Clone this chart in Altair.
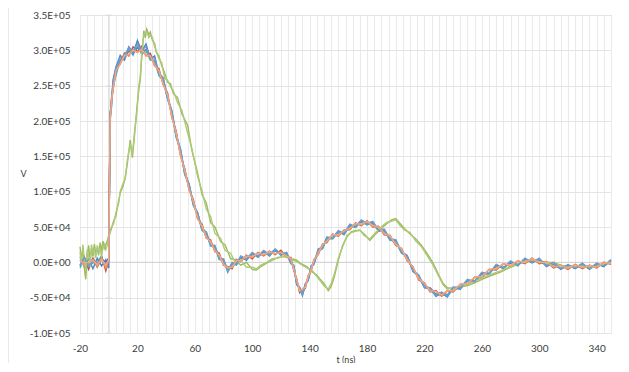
import altair as alt
import pandas as pd

# ---- time grid (ns) for the overlapping shots ----
T_MAIN = [-20, -17, -14, -11, -8, -5, -2, 0, 1, 2, 3, 5,
          8, 11, 14, 17, 20, 23, 26, 29, 32, 35, 38, 41, 44, 47, 50, 53, 56, 59,
          62, 65, 68, 71, 74, 77, 80, 83, 86, 89, 92,
          96, 100, 104, 108, 112, 116, 120, 124,
          127, 129, 131, 133, 135, 137, 139, 141, 143, 146, 149, 152,
          156, 160, 164, 168, 172, 176, 180, 184, 188, 192, 196, 200, 204, 208,
          212, 216, 220, 224, 228, 232, 236, 240,
          245, 250, 255, 260, 265, 270, 275, 280, 285, 290, 295, 300, 305, 310,
          315, 320, 325, 330, 335, 340, 345, 350]

# values in units of 1e3 V
S_BLUE = [8, -6, 5, -9, 6, -5, 4, -8, 212, 224, 258, 276,
          293, 286, 305, 296, 314, 299, 309, 288, 292, 266, 260, 232, 214, 178, 160, 125, 111, 81,
          70, 46, 43, 24, 23, 5, 4, -13, -1, -3, 8,
          3, 13, 7, 16, 9, 18, 10, 13,
          -2, -5, -32, -36, -47, -31, -26, -6, -3, 18, 20, 35,
          34, 44, 40, 53, 50, 59, 54, 57, 45, 46, 32, 31, 14, 9,
          -13, -19, -36, -37, -48, -44, -49, -36,
          -38, -25, -28, -15, -17, -4, -9, 1, -5, 5, -1, 5, -6, -1,
          -10, -4, -9, -2, -10, -2, -6, 3]
S_RED = [-5, 8, -10, 6, -4, 9, -12, 3, 198, 233, 243, 272,
         281, 296, 292, 305, 298, 306, 293, 296, 278, 274, 251, 240, 205, 186, 151, 133, 102, 89,
         61, 54, 34, 32, 15, 13, -4, -6, -9, 4, 1,
         10, 5, 14, 9, 16, 11, 17, 7,
         7, -12, -23, -43, -38, -37, -19, -13, 4, 11, 26, 28,
         40, 37, 46, 46, 56, 52, 59, 50, 51, 39, 38, 24, 20, 2,
         -6, -25, -29, -42, -40, -48, -40, -42,
         -31, -32, -21, -22, -10, -11, -2, -6, 2, -2, 6, -2, 1, -8,
         -4, -10, -3, -9, -4, -8, 0, -3]
S_PURPLE = [4, -3, -1, 5, -7, 5, 0, 6, 207, 231, 251, 268,
            287, 289, 299, 296, 304, 297, 301, 288, 285, 267, 258, 233, 211, 180, 157, 127, 108, 83,
            67, 48, 40, 26, 21, 7, 2, -11, -3, 0, 6,
            5, 11, 9, 14, 11, 16, 12, 11,
            1, -7, -30, -36, -44, -32, -24, -8, -1, 16, 21, 33,
            35, 42, 41, 51, 51, 57, 54, 55, 46, 44, 33, 29, 15, 7,
            -11, -20, -34, -36, -45, -43, -46, -37,
            -36, -26, -26, -17, -15, -6, -7, -1, -3, 3, 1, 3, -4, -3,
            -9, -5, -8, -4, -9, -3, -5, 2]
S_AQUA = [-8, 6, -6, -1, 2, 8, -7, 5, 203, 220, 247, 264,
          286, 289, 302, 293, 309, 294, 300, 286, 285, 264, 257, 231, 212, 177, 158, 124, 109, 80,
          68, 45, 41, 23, 22, 4, 3, -14, -2, -4, 7,
          4, 12, 8, 15, 10, 17, 11, 12,
          -1, -6, -31, -37, -46, -32, -25, -7, -2, 17, 19, 34,
          33, 43, 39, 52, 49, 58, 53, 56, 44, 45, 31, 30, 13, 8,
          -12, -20, -35, -38, -47, -45, -48, -37,
          -37, -26, -27, -16, -16, -5, -8, 0, -4, 4, 0, 4, -5, -2,
          -9, -5, -8, -3, -9, -3, -5, 2]
S_ORANGE = [3, -4, -2, 4, -6, 6, -8, 2, 204, 229, 246, 272,
            280, 294, 293, 301, 297, 302, 292, 292, 278, 272, 252, 238, 206, 184, 153, 131, 104, 87,
            63, 52, 36, 30, 17, 11, -2, -7, -7, 3, 2,
            9, 7, 13, 10, 15, 12, 15, 8,
            5, -11, -24, -41, -38, -36, -19, -12, 3, 12, 25, 29,
            39, 38, 45, 47, 55, 53, 58, 51, 50, 40, 37, 25, 19, 3,
            -7, -24, -30, -41, -41, -47, -40, -41,
            -31, -31, -21, -21, -10, -10, -2, -5, 2, -1, 6, -1, 1, -7,
            -4, -9, -3, -8, -4, -7, 0, -2]
S_LIGHTBLUE = [-4, 7, -5, 2, -1, 3, -2, 0, 207, 229, 254, 274,
               290, 293, 304, 298, 309, 300, 305, 290, 289, 268, 261, 234, 215, 181, 161, 127, 111, 83,
               70, 47, 43, 25, 24, 6, 5, -12, 0, -2, 9,
               5, 14, 9, 17, 11, 19, 12, 14,
               0, -4, -29, -35, -45, -30, -24, -5, -1, 19, 21, 36,
               35, 45, 41, 54, 51, 60, 55, 58, 46, 47, 33, 32, 15, 10,
               -11, -18, -34, -36, -46, -42, -47, -35,
               -36, -24, -27, -14, -16, -3, -8, 2, -4, 6, 0, 6, -5, 0,
               -9, -3, -8, -1, -9, -1, -5, 4]
S_SALMON = [2, -1, 0, 3, -3, 4, -4, 3, 203, 228, 246, 270,
            281, 293, 294, 300, 297, 301, 294, 292, 279, 271, 252, 237, 206, 183, 152, 130, 103, 86,
            62, 51, 35, 29, 16, 10, -3, -8, -7, 3, 2,
            9, 8, 13, 11, 15, 12, 14, 9,
            5, -10, -25, -40, -38, -35, -20, -11, 3, 13, 25, 30,
            39, 39, 45, 48, 55, 54, 58, 52, 50, 41, 37, 26, 19, 4,
            -7, -23, -30, -40, -41, -46, -40, -40,
            -31, -30, -21, -20, -10, -9, -2, -4, 2, 0, 5, 0, 0, -6,
            -5, -8, -4, -7, -5, -6, -1, -1]

# ---- the delayed (green) shots ----
T_GREEN = [-20, -19, -18, -17, -16, -15, -14, -13, -12, -11, -10, -9, -8, -7, -6, -5, -4, -3, -2, -1, 0,
           1.5, 3.5, 5, 7, 8, 10, 11.5, 13, 15, 16.5, 18, 19.5, 21, 22, 23, 24.5, 25.5, 26.5, 28, 29,
           30.5, 32, 33, 35, 37,
           39, 41, 43, 45, 48, 51, 55, 58, 62, 65, 68, 71, 74, 78, 81, 85, 88, 92, 96, 100,
           103, 106, 110, 114, 118, 122, 126, 131, 134, 138, 142, 145, 147, 150, 153, 155, 157, 160, 163, 166,
           169, 172, 175, 178, 182, 185, 188, 191, 194, 197, 200, 203, 206, 210, 214, 218, 222, 226, 230, 233,
           236, 240, 245, 250, 255, 260, 266, 273, 280, 287, 294, 300, 305, 310, 315, 320, 325, 330, 335,
           340, 345, 350]
G_GREEN = [22, 5, 18, -8, -24, 10, 24, 2, 20, 8, 26, 12, 20, 10, 28, 15, 30, 18, 25, 30, 38,
           45, 59, 66, 88, 98, 108, 120, 140, 173, 148, 180, 215, 245, 258, 290, 328, 318, 330, 322, 326,
           314, 310, 298, 292, 278,
           268, 255, 253, 239, 233, 210, 194, 158, 126, 96, 84, 56, 50, 29, 25, 5, 4, -4, 0, -10,
           -11, -6, -1, 3, 7, 8, 6, 3, -2, -6, -14, -18, -23, -30, -40, -34, -22, 3, 24, 36,
           43, 45, 45, 40, 31, 38, 44, 50, 55, 60, 62, 55, 48, 40, 33, 24, 12, -1, -18, -30,
           -36, -37, -35, -33, -29, -24, -19, -14, -7, -1, 3, 2, 0, 0, -4, -6, -5, -6, -7,
           -5, -3, 1]
G_LIGHTGREEN = [15, -3, 25, 4, -10, 18, 10, -6, 25, 14, 18, 6, 24, 16, 20, 8, 22, 26, 18, 24, 34,
                48, 55, 70, 84, 100, 112, 118, 145, 168, 152, 185, 210, 250, 262, 295, 322, 325, 326, 318, 322,
                318, 305, 300, 288, 282,
                260, 258, 249, 243, 226, 215, 183, 161, 121, 101, 75, 65, 41, 34, 17, 13, 0, 3, -7, -7,
                -9, -4, 0, 5, 6, 9, 5, 1, -3, -8, -12, -20, -25, -33, -38, -30, -18, 6, 22, 38,
                42, 44, 46, 38, 33, 40, 46, 52, 57, 58, 60, 52, 46, 42, 30, 22, 9, -4, -20, -32,
                -38, -36, -34, -31, -27, -22, -17, -12, -6, 0, 4, 1, -1, -1, -5, -7, -6, -5, -8,
                -6, -2, 0]

# drawing order follows the spreadsheet series order
SERIES = [
    ("#4F81BD", T_MAIN, S_BLUE),
    ("#C0504D", T_MAIN, S_RED),
    ("#9BBB59", T_GREEN, G_GREEN),
    ("#8064A2", T_MAIN, S_PURPLE),
    ("#4BACC6", T_MAIN, S_AQUA),
    ("#F79646", T_MAIN, S_ORANGE),
    ("#AFC97A", T_GREEN, G_LIGHTGREEN),
    ("#729ACA", T_MAIN, S_LIGHTBLUE),
    ("#F4A582", T_MAIN, S_SALMON),
]

X_GRID = list(range(-20, 351, 5))
X_LABELS = [-20, 20, 60, 100, 140, 180, 220, 260, 300, 340]
Y_TICKS = [-100000, -50000, 0, 50000, 100000, 150000, 200000, 250000, 300000, 350000]
Y_LABELS = ["-1.0E+05", "-5.0E+04", "0.0E+00", "5.0E+04", "1.0E+05",
            "1.5E+05", "2.0E+05", "2.5E+05", "3.0E+05", "3.5E+05"]

FONT = "Lato"
LABEL_COLOR = "#3c3c3c"

y_expr = " : ".join(f"datum.value == {v} ? '{l}'" for v, l in zip(Y_TICKS, Y_LABELS)) + " : ''"
x_expr = " : ".join(f"datum.value == {v} ? '{v}'" for v in X_LABELS) + " : ''"

x_enc = alt.X("t:Q", scale=alt.Scale(domain=[-20, 350], nice=False, zero=False),
              axis=alt.Axis(values=X_GRID, labelExpr=x_expr, ticks=False, domain=False,
                            grid=True, gridColor="#EAEAEA", gridWidth=1,
                            labelFont=FONT, labelFontSize=10, labelColor=LABEL_COLOR,
                            labelPadding=10, labelFlush=False, labelOverlap=False,
                            title="t (ns)", titleFont=FONT, titleFontSize=9,
                            titleFontWeight="normal", titleColor=LABEL_COLOR,
                            titleY=31, titleBaseline="bottom"))
y_enc = alt.Y("v:Q", scale=alt.Scale(domain=[-100000, 350000], nice=False, zero=False),
              axis=alt.Axis(values=Y_TICKS, labelExpr=y_expr, ticks=False, domain=False,
                            grid=True, gridColor="#E4E4E4", gridWidth=1,
                            labelFont=FONT, labelFontSize=10, labelColor=LABEL_COLOR,
                            labelPadding=10, title="V", titleFont=FONT, titleFontSize=9,
                            titleFontWeight="normal", titleColor=LABEL_COLOR, titleAngle=0,
                            titleX=-57, titleY=158, titleAlign="center", titleBaseline="middle"))

layers = []

# zero line of the value axis
zero_df = pd.DataFrame({"v": [0]})
layers.append(alt.Chart(zero_df).mark_rule(color="#D0D0D0", strokeWidth=1).encode(y=y_enc))
# vertical axis line at t = 0 with its tick marks
vax_df = pd.DataFrame({"t": [0]})
layers.append(alt.Chart(vax_df).mark_rule(color="#DADADA", strokeWidth=1).encode(x=x_enc))
tick_df = pd.DataFrame({"t": [0] * len(Y_TICKS), "v": Y_TICKS})
layers.append(alt.Chart(tick_df).mark_tick(color="#DADADA", orient="horizontal", size=6,
                                           thickness=1).encode(x=x_enc, y=y_enc))

for color, t, vals in SERIES:
    df = pd.DataFrame({"t": t, "v": [v * 1000 for v in vals]})
    layers.append(alt.Chart(df).mark_line(color=color, strokeWidth=1.4, interpolate="linear")
                  .encode(x=x_enc, y=y_enc))

# chart-area border on the left
border_df = pd.DataFrame({"k": [0]})
layers.append(alt.Chart(border_df).mark_rule(color="#D4D4D4", strokeWidth=1).encode(
    x=alt.value(-72), y=alt.value(-10), y2=alt.value(355)))

chart = alt.layer(*layers).properties(
    width=531, height=318,
    autosize=alt.AutoSizeParams(type="none"),
    padding={"left": 72, "top": 7, "right": 10, "bottom": 30},
).configure_view(strokeWidth=0).configure(background="white")

chart.save("out.html", embed_options={"renderer": "svg", "actions": False})
